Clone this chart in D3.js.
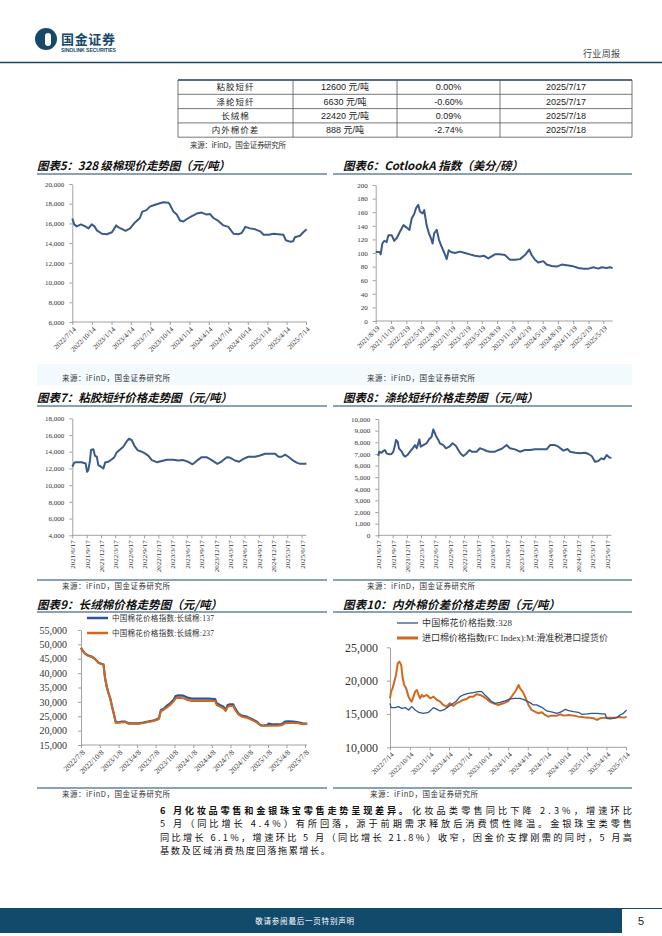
<!DOCTYPE html>
<html>
<head>
<meta charset="utf-8">
<script src="https://d3js.org/d3.v7.min.js"></script>
<style>
  body { margin: 0; background: #fff; }
  svg { display: block; }
</style>
</head>
<body>
<svg width="662" height="936"></svg>

<script>
// ---- table data ----
var tableNames = ["粘胶短纤", "涤纶短纤", "长绒棉", "内外棉价差"];
var tablePrices = ["12600 元/吨", "6630 元/吨", "22420 元/吨", "888 元/吨"];
var tableChanges = ["0.00%", "-0.60%", "0.09%", "-2.74%"];
var tableDates = ["2025/7/17", "2025/7/17", "2025/7/18", "2025/7/18"];

// ---- 图表5: 328 级棉现价 ----
var c5XTicks = ["2022/7/14","2022/10/14","2023/1/14","2023/4/14","2023/7/14","2023/10/14","2024/1/14","2024/4/14","2024/7/14","2024/10/14","2025/1/14","2025/4/14","2025/7/14"];
var c5YTicks = [6000, 8000, 10000, 12000, 14000, 16000, 18000, 20000];
var c5Dates = ["2022/7/14","2022/7/23","2022/8/4","2022/8/24","2022/9/12","2022/9/28","2022/10/13","2022/10/26","2022/11/6","2022/11/30","2022/12/23","2023/1/16","2023/2/5","2023/2/16","2023/3/3","2023/3/21","2023/4/11","2023/5/4","2023/5/27","2023/6/7","2023/6/27","2023/7/13","2023/8/6","2023/8/29","2023/9/14","2023/10/8","2023/10/15","2023/10/31","2023/11/16","2023/12/1","2023/12/17","2024/1/2","2024/1/26","2024/2/18","2024/3/12","2024/4/4","2024/4/20","2024/5/6","2024/5/29","2024/6/22","2024/7/15","2024/8/8","2024/8/31","2024/9/16","2024/10/2","2024/10/25","2024/11/18","2024/12/11","2024/12/27","2025/1/20","2025/2/12","2025/3/7","2025/3/30","2025/4/10","2025/4/30","2025/5/15","2025/5/23","2025/6/16","2025/7/1","2025/7/17"];
var c5Values = [16500,15900,15700,15900,15700,15500,15900,15700,15300,14950,14900,15100,15800,15600,15450,15250,15500,16100,16550,17200,17350,17700,17900,18050,18150,18100,17900,17200,16900,16300,16200,16450,16750,17000,17100,16900,16950,16550,16250,15800,15650,14950,14900,15050,15650,15500,15400,15200,14850,14850,14950,14900,14850,14300,14150,14200,14600,14750,15100,15400];

// ---- 图表6: CotlookA 指数 ----
var c6XTicks = ["2021/8/19","2021/11/19","2022/2/19","2022/5/19","2022/8/19","2022/11/19","2023/2/19","2023/5/19","2023/8/19","2023/11/19","2024/2/19","2024/5/19","2024/8/19","2024/11/19","2025/2/19","2025/5/19"];
var c6YTicks = [0, 20, 40, 60, 80, 100, 120, 140, 160, 180, 200];
var c6Dates = ["2021/8/19","2021/9/14","2021/9/18","2021/9/28","2021/10/10","2021/10/24","2021/11/3","2021/11/24","2021/12/8","2021/12/24","2022/1/13","2022/2/2","2022/2/23","2022/3/10","2022/3/24","2022/4/7","2022/4/19","2022/5/2","2022/5/12","2022/5/28","2022/6/7","2022/6/21","2022/7/5","2022/7/17","2022/7/27","2022/8/6","2022/8/21","2022/9/4","2022/9/20","2022/10/6","2022/10/20","2022/11/1","2022/11/19","2022/12/9","2023/1/8","2023/2/7","2023/3/8","2023/4/7","2023/5/7","2023/5/31","2023/6/27","2023/7/17","2023/8/6","2023/9/5","2023/10/5","2023/11/5","2023/12/5","2024/1/4","2024/2/3","2024/2/28","2024/3/14","2024/4/3","2024/4/23","2024/5/23","2024/6/12","2024/7/12","2024/8/12","2024/9/11","2024/10/11","2024/11/11","2024/12/20","2025/1/20","2025/2/19","2025/3/20","2025/4/19","2025/5/9","2025/6/8","2025/6/28","2025/7/14"];
var c6Values = [102,101,98,114,118,116,126,126,118,122,132,141,137,134,151,157,166,171,161,158,163,141,129,122,114,129,134,119,109,100,91,104,101,100,102,100,98,96,95,96,92,95,98,98,97,90,90,91,97,105,97,90,86,88,83,81,80,83,82,81,78,77,77,79,77,79,78,79,78];

// ---- 图表7: 粘胶短纤 ----
var c7XTicks = ["2021/6/17","2021/9/17","2021/12/17","2022/3/17","2022/6/17","2022/9/17","2022/12/17","2023/3/17","2023/6/17","2023/9/17","2023/12/17","2024/3/17","2024/6/17","2024/9/17","2024/12/17","2025/3/17","2025/6/17"];
var c7YTicks = [4000, 6000, 8000, 10000, 12000, 14000, 16000, 18000];
var c7Dates = ["2021/6/17","2021/6/30","2021/7/15","2021/8/15","2021/9/10","2021/9/19","2021/9/27","2021/10/8","2021/10/14","2021/10/29","2021/11/9","2021/11/20","2021/11/30","2021/12/21","2022/1/1","2022/1/12","2022/2/2","2022/2/24","2022/3/12","2022/3/26","2022/4/10","2022/5/8","2022/5/28","2022/6/13","2022/6/30","2022/7/21","2022/8/7","2022/9/2","2022/9/23","2022/10/15","2022/11/5","2022/12/7","2023/1/8","2023/2/9","2023/3/21","2023/4/23","2023/5/24","2023/6/25","2023/7/23","2023/8/18","2023/9/19","2023/10/20","2023/11/22","2023/12/28","2024/1/25","2024/2/26","2024/3/17","2024/4/18","2024/5/14","2024/6/11","2024/7/12","2024/8/24","2024/9/25","2024/10/27","2024/11/28","2024/12/30","2025/1/20","2025/2/10","2025/3/3","2025/3/24","2025/4/19","2025/5/16","2025/6/7","2025/7/17"];
var c7Values = [12200,12700,12750,12750,12600,11600,11800,13000,14200,14300,13500,13400,12400,12150,12000,12700,12800,13100,13350,13900,14150,14600,15200,15550,15400,14600,14200,14000,13800,13500,13000,12750,12900,13050,13050,12950,13000,12800,12500,12900,13350,13350,13000,12550,12850,13350,13300,12950,12800,13150,13400,13400,13550,13750,13750,13750,13400,13400,13650,13400,13000,12700,12550,12550];

// ---- 图表8: 涤纶短纤 ----
var c8XTicks = c7XTicks;
var c8YTicks = [0, 1000, 2000, 3000, 4000, 5000, 6000, 7000, 8000, 9000, 10000];
var c8Dates = ["2021/6/17","2021/6/23","2021/7/8","2021/7/19","2021/7/29","2021/8/9","2021/8/26","2021/9/10","2021/9/21","2021/10/2","2021/10/8","2021/10/19","2021/10/27","2021/11/14","2021/11/25","2021/12/5","2021/12/20","2022/1/6","2022/1/23","2022/2/7","2022/2/18","2022/3/1","2022/3/7","2022/3/15","2022/4/1","2022/4/22","2022/5/9","2022/5/24","2022/6/4","2022/6/21","2022/7/6","2022/7/16","2022/8/7","2022/8/24","2022/9/14","2022/10/5","2022/10/27","2022/11/11","2022/11/28","2022/12/13","2022/12/30","2023/1/21","2023/2/5","2023/3/8","2023/3/29","2023/4/19","2023/5/11","2023/6/1","2023/7/3","2023/7/24","2023/8/14","2023/9/16","2023/10/7","2023/11/8","2023/12/10","2024/1/11","2024/2/13","2024/3/15","2024/4/16","2024/5/29","2024/6/20","2024/7/21","2024/8/12","2024/9/13","2024/10/9","2024/10/26","2024/11/27","2024/12/29","2025/1/30","2025/2/20","2025/3/13","2025/4/3","2025/4/24","2025/5/15","2025/5/30","2025/6/17","2025/7/4","2025/7/17"];
var c8Values = [6820,7190,7100,7250,7330,7050,6960,6990,7190,7760,8200,8050,7480,7190,6900,6760,6900,7190,7480,7760,7480,7970,8250,7620,7760,7910,8280,8480,9110,8540,8200,7910,7760,7480,7620,7910,7680,7330,6990,6820,6990,7330,7190,7190,7480,7390,7250,7190,7190,7330,7420,7760,7480,7390,7190,7330,7330,7390,7390,7390,7760,7760,7620,7280,7420,7190,7100,7050,7100,6990,6820,6330,6390,6620,6530,6900,6700,6630];

// ---- 图表9: 长绒棉 ----
var c9XTicks = ["2022/7/8","2022/10/8","2023/1/8","2023/4/8","2023/7/8","2023/10/8","2024/1/8","2024/4/8","2024/7/8","2024/10/8","2025/1/8","2025/4/8","2025/7/8"];
var c9YTicks = [15000, 20000, 25000, 30000, 35000, 40000, 45000, 50000, 55000];
var c9Names = ["中国棉花价格指数:长绒棉:137", "中国棉花价格指数:长绒棉:237"];
var c9Dates = ["2022/7/8","2022/7/14","2022/7/27","2022/8/13","2022/8/30","2022/9/15","2022/10/2","2022/10/18","2022/10/26","2022/11/3","2022/11/11","2022/11/20","2022/11/28","2022/12/9","2022/12/19","2022/12/25","2023/1/8","2023/1/24","2023/2/10","2023/2/26","2023/3/21","2023/4/14","2023/5/8","2023/6/1","2023/6/26","2023/7/13","2023/7/24","2023/8/3","2023/8/15","2023/8/31","2023/9/17","2023/10/3","2023/10/14","2023/10/27","2023/11/21","2023/12/7","2023/12/31","2024/2/2","2024/3/22","2024/4/24","2024/5/2","2024/5/18","2024/6/4","2024/6/15","2024/6/25","2024/7/6","2024/7/22","2024/7/31","2024/8/16","2024/9/2","2024/9/26","2024/10/21","2024/11/15","2024/12/1","2024/12/17","2025/1/3","2025/1/11","2025/1/28","2025/2/21","2025/3/15","2025/4/1","2025/4/18","2025/5/12","2025/6/5","2025/6/30","2025/7/19"];
var c9Values137 = [48850,48040,46880,46070,45720,44910,43640,43170,43060,38190,35290,32970,31230,27750,24860,22880,22880,23120,23120,22540,22540,22540,22770,23120,23460,23930,24280,27170,27520,28570,29500,30650,32040,32280,32160,31580,31120,31120,31120,31000,29500,28910,28330,27170,28910,29140,29140,27750,26010,25200,24860,24040,23120,21960,21720,21960,22420,22190,22190,22190,23120,23230,23120,22880,22420,22420];
var c9Values237 = [48850,48000,46800,46000,45650,44850,43550,43100,43000,38100,35200,32900,31150,27700,24800,22700,22750,22950,22950,22400,22350,22400,22650,23000,23300,23700,24050,26820,27170,27990,28910,30070,31230,31460,31230,30770,30300,30300,30300,30300,28910,28330,27750,26820,28330,28570,28570,27170,25660,24860,24510,23700,22770,21840,21600,21720,21720,21720,21720,21840,22540,22650,22650,22540,22190,22300];

// ---- 图表10: 内外棉价差 ----
var c10XTicks = ["2022/7/14","2022/10/14","2023/1/14","2023/4/14","2023/7/14","2023/10/14","2024/1/14","2024/4/14","2024/7/14","2024/10/14","2025/1/14","2025/4/14","2025/7/14"];
var c10YTicks = [10000, 15000, 20000, 25000];
var c10Names = ["中国棉花价格指数:328", "进口棉价格指数(FC Index):M:滑准税港口提货价"];
var c10DomDates = ["2022/7/14","2022/7/19","2022/8/6","2022/8/22","2022/9/7","2022/9/23","2022/10/8","2022/10/23","2022/11/8","2022/11/24","2022/12/16","2023/1/9","2023/2/1","2023/2/17","2023/3/4","2023/3/26","2023/4/11","2023/5/4","2023/5/19","2023/6/4","2023/6/19","2023/7/13","2023/8/5","2023/8/28","2023/9/13","2023/9/28","2023/10/14","2023/10/29","2023/11/14","2023/12/7","2023/12/30","2024/1/23","2024/2/15","2024/3/9","2024/3/24","2024/4/9","2024/4/24","2024/5/10","2024/5/25","2024/6/18","2024/7/11","2024/7/26","2024/8/11","2024/8/27","2024/9/19","2024/10/5","2024/10/20","2024/11/13","2024/12/5","2024/12/21","2025/1/14","2025/2/6","2025/3/1","2025/3/23","2025/4/8","2025/4/15","2025/5/1","2025/5/16","2025/6/1","2025/6/16","2025/7/2","2025/7/17"];
var c10DomValues = [16600,15950,15950,16100,15850,15950,15600,16100,15600,15250,15100,15250,15950,15700,15450,15700,16100,16600,16950,17600,17850,18100,18200,18350,18350,17850,17350,16850,16600,16750,16950,17250,17350,17350,17200,16950,16700,16350,16350,16000,15450,15350,15250,15100,15350,15700,15500,15350,15250,14950,15000,15100,15100,15000,15000,14350,14250,14350,14450,14850,15100,15600];
var c10ImpDates = ["2022/7/14","2022/7/19","2022/7/26","2022/8/3","2022/8/11","2022/8/19","2022/8/27","2022/9/4","2022/9/11","2022/9/18","2022/9/27","2022/10/8","2022/10/16","2022/10/23","2022/10/31","2022/11/8","2022/11/16","2022/11/24","2022/12/1","2022/12/9","2022/12/16","2023/1/1","2023/1/17","2023/2/1","2023/2/17","2023/3/4","2023/3/18","2023/4/3","2023/4/18","2023/5/4","2023/5/19","2023/6/4","2023/6/19","2023/7/5","2023/7/20","2023/8/5","2023/8/20","2023/9/5","2023/9/21","2023/10/6","2023/10/21","2023/11/6","2023/11/29","2023/12/22","2024/1/15","2024/2/4","2024/2/20","2024/3/2","2024/3/9","2024/3/21","2024/4/1","2024/4/17","2024/5/2","2024/5/17","2024/6/2","2024/6/18","2024/7/3","2024/7/18","2024/8/3","2024/8/27","2024/9/11","2024/9/27","2024/10/20","2024/11/13","2024/12/5","2024/12/29","2025/1/21","2025/2/14","2025/3/1","2025/3/15","2025/4/8","2025/5/1","2025/5/24","2025/6/16","2025/7/2","2025/7/17"];
var c10ImpValues = [17350,18350,18850,19850,20850,22600,22850,22350,20350,19350,18850,17600,17100,16850,17600,18350,18600,17850,17350,17850,17600,17850,17350,17600,17100,16850,16350,16100,16600,16200,16600,16850,17100,17250,17600,17600,17950,17850,17600,17250,16850,16600,16350,16600,16950,17850,18600,19350,18850,18350,17600,16350,15600,15350,15100,15250,14850,14600,14750,14750,14950,14750,14850,14750,14600,14500,14450,14350,14100,14350,14450,14450,14450,14550,14450,14550];

// ---- paragraph text ----
var paraBold = "6 月化妆品零售和金银珠宝零售走势呈现差异。";
var paraLines = [
  "化妆品类零售同比下降 2.3%，增速环比",
  "5 月（同比增长 4.4%）有所回落，源于前期需求释放后消费惯性降温。金银珠宝类零售",
  "同比增长 6.1%，增速环比 5 月（同比增长 21.8%）收窄，因金价支撑刚需的同时，5 月高",
  "基数及区域消费热度回落拖累增长。"
];

var svg = d3.select("svg");
var parse = d3.timeParse("%Y/%m/%d");
var serif = '"Liberation Serif","Times New Roman",serif';
var cjk = '"Noto Sans CJK SC",sans-serif';
var sans = '"Liberation Sans",Arial,sans-serif';
var navy = "#17486a";
var lineBlue = "#3b5a8c";

// ---- header ----
svg.append("circle").attr("cx", 46).attr("cy", 39).attr("r", 11).attr("fill", navy);
svg.append("rect").attr("x", 45).attr("y", 33).attr("width", 6).attr("height", 13).attr("rx", 3).attr("fill", "#fff");
svg.append("text").attr("x", 61).attr("y", 44).text("国金证券")
  .attr("font-family", cjk).attr("font-weight", "bold").attr("font-size", 13).attr("fill", navy)
  .attr("textLength", 54);
svg.append("text").attr("x", 61).attr("y", 52).text("SINOLINK SECURITIES")
  .attr("font-family", sans).attr("font-weight", "bold").attr("font-size", 5.2).attr("fill", navy)
  .attr("textLength", 55);
svg.append("text").attr("x", 583).attr("y", 57).text("行业周报")
  .attr("font-family", cjk).attr("font-size", 9).attr("fill", "#444").attr("textLength", 37);
svg.append("line").attr("x1", 0).attr("x2", 662).attr("y1", 62.5).attr("y2", 62.5)
  .attr("stroke", navy).attr("stroke-width", 1.5);

// ---- table ----
var colX = [178, 293, 397, 500, 632];
var rowY = [80, 94.3, 108.6, 122.9, 137.2];
var tg = svg.append("g");
rowY.forEach(function (y, i) {
  tg.append("line").attr("x1", colX[0]).attr("x2", colX[4]).attr("y1", y).attr("y2", y)
    .attr("stroke", i === 0 ? "#1f3d5a" : "#555").attr("stroke-width", i === 0 ? 1.5 : 0.8);
});
colX.forEach(function (x) {
  tg.append("line").attr("x1", x).attr("x2", x).attr("y1", rowY[0]).attr("y2", rowY[4])
    .attr("stroke", "#555").attr("stroke-width", 0.8);
});
var tableCols = [tableNames, tablePrices, tableChanges, tableDates];
tableCols.forEach(function (col, c) {
  col.forEach(function (v, r) {
    tg.append("text")
      .attr("x", (colX[c] + colX[c + 1]) / 2)
      .attr("y", (rowY[r] + rowY[r + 1]) / 2 + 3.2)
      .attr("text-anchor", "middle")
      .attr("font-family", c === 0 ? cjk : sans + "," + cjk)
      .attr("font-size", c === 0 ? 8.5 : 9)
      .attr("letter-spacing", c === 0 ? 1 : 0)
      .attr("fill", "#222")
      .text(v);
  });
});
svg.append("text").attr("x", 190).attr("y", 148).text("来源：iFinD，国金证券研究所")
  .attr("font-family", cjk).attr("font-size", 7.5).attr("fill", "#333").attr("textLength", 96);

// ---- titles, rules and sources ----
function title(x, y, txt, len) {
  svg.append("text").attr("x", x).attr("y", y).text(txt)
    .attr("font-family", cjk).attr("font-weight", "bold").attr("font-style", "italic")
    .attr("font-size", 11.5).attr("fill", "#111").attr("textLength", len);
}
function rule(x1, x2, y) {
  svg.append("line").attr("x1", x1).attr("x2", x2).attr("y1", y).attr("y2", y)
    .attr("stroke", navy).attr("stroke-width", 1.1);
}
function source(x, y) {
  svg.append("text").attr("x", x).attr("y", y).text("来源：iFinD，国金证券研究所")
    .attr("font-family", cjk).attr("font-size", 7.5).attr("fill", "#333").attr("textLength", 108);
}

title(37, 169.5, "图表5：328 级棉现价走势图（元/吨）", 193);
title(343, 169.5, "图表6：CotlookA 指数（美分/磅）", 180);
rule(37, 327, 174); rule(333, 632, 174);
svg.append("rect").attr("x", 37).attr("y", 364).attr("width", 595).attr("height", 21).attr("fill", "#f3fafd");
source(62, 381); source(367, 381);

title(37, 402, "图表7：粘胶短纤价格走势图（元/吨）", 195);
title(343, 402, "图表8：涤纶短纤价格走势图（元/吨）", 195);
rule(37, 327, 406); rule(333, 632, 406);
rule(37, 327, 580); rule(333, 632, 580);
source(62, 589); source(367, 589);

title(37, 609, "图表9：长绒棉价格走势图（元/吨）", 185);
title(343, 609, "图表10：内外棉价差价格走势图（元/吨）", 217);
rule(37, 327, 612); rule(333, 632, 612);
rule(37, 327, 788); rule(333, 632, 788);
source(62, 797); source(370, 797);

// ---- line chart helper ----
function lineChart(o) {
  var g = svg.append("g");
  var xt = o.xTicks.map(parse);
  var x = d3.scaleTime().domain([xt[0], xt[xt.length - 1]]).range([o.x0, o.x1]);
  var y = d3.scaleLinear().domain(d3.extent(o.yTicks)).range([o.yB, o.yT]);

  var ya = g.append("g").attr("transform", "translate(" + o.x0 + ",0)")
    .call(d3.axisLeft(y).tickValues(o.yTicks).tickFormat(o.yFmt)
      .tickSize(3).tickSizeOuter(0).tickPadding(o.yPad));
  ya.attr("font-family", serif).attr("font-size", o.yFont);

  var xa = g.append("g").attr("transform", "translate(0," + o.yB + ")")
    .call(d3.axisBottom(x).tickValues(xt).tickFormat(function (d, i) { return o.xTicks[i]; })
      .tickSize(3).tickSizeOuter(0));
  xa.attr("font-family", serif).attr("font-size", o.xFont);
  xa.select(".domain").attr("d", "M" + o.x0 + ",0H" + x(parse(o.xEnd)));
  xa.selectAll("text")
    .attr("x", 0).attr("y", 0).attr("dy", "0.35em")
    .style("text-anchor", "end")
    .attr("transform", o.rot === 90 ? "translate(0,5) rotate(-90)" : "translate(2,6) rotate(-45)");

  g.selectAll(".domain, .tick line").attr("stroke", "#8a8a8a").attr("stroke-width", 0.8);
  g.selectAll(".tick text").attr("fill", "#333");

  var line = d3.line()
    .x(function (d) { return x(parse(d[0])); })
    .y(function (d) { return y(d[1]); });
  o.series.forEach(function (s) {
    g.append("path").datum(d3.zip(s.dates, s.values))
      .attr("fill", "none").attr("stroke", s.color).attr("stroke-width", s.width)
      .attr("stroke-linejoin", "round").attr("d", line);
  });
}

var comma = d3.format(",");

lineChart({ x0: 72.3, x1: 306, yT: 184, yB: 322, xTicks: c5XTicks, yTicks: c5YTicks,
  yFmt: comma, yFont: 7, yPad: 5, xFont: 7, rot: 45, xEnd: "2025/7/17",
  series: [{ dates: c5Dates, values: c5Values, color: lineBlue, width: 2 }] });

lineChart({ x0: 375.7, x1: 603.3, yT: 185, yB: 321, xTicks: c6XTicks, yTicks: c6YTicks,
  yFmt: d3.format("d"), yFont: 7, yPad: 5, xFont: 7, rot: 45, xEnd: "2025/7/14",
  series: [{ dates: c6Dates, values: c6Values, color: lineBlue, width: 2 }] });

lineChart({ x0: 72.3, x1: 301.7, yT: 418.3, yB: 535.3, xTicks: c7XTicks, yTicks: c7YTicks,
  yFmt: comma, yFont: 7, yPad: 5, xFont: 7, rot: 90, xEnd: "2025/7/17",
  series: [{ dates: c7Dates, values: c7Values, color: lineBlue, width: 2 }] });

lineChart({ x0: 378.3, x1: 606.7, yT: 419, yB: 535.3, xTicks: c8XTicks, yTicks: c8YTicks,
  yFmt: comma, yFont: 7, yPad: 5, xFont: 7, rot: 90, xEnd: "2025/7/17",
  series: [{ dates: c8Dates, values: c8Values, color: lineBlue, width: 2 }] });

lineChart({ x0: 81, x1: 305, yT: 630, yB: 745, xTicks: c9XTicks, yTicks: c9YTicks,
  yFmt: comma, yFont: 10, yPad: 11, xFont: 7.5, rot: 45, xEnd: "2025/7/19",
  series: [{ dates: c9Dates, values: c9Values137, color: "#2f5597", width: 2.2 },
           { dates: c9Dates, values: c9Values237, color: "#d0691e", width: 2 }] });

lineChart({ x0: 390, x1: 626, yT: 647.3, yB: 747.3, xTicks: c10XTicks, yTicks: c10YTicks,
  yFmt: comma, yFont: 12, yPad: 9, xFont: 7, rot: 45, xEnd: "2025/7/17",
  series: [{ dates: c10ImpDates, values: c10ImpValues, color: "#d0691e", width: 2 },
           { dates: c10DomDates, values: c10DomValues, color: "#2f5597", width: 1.3 }] });

// ---- legends ----
function legendItem(x, y, color, w, txt, fs, len) {
  svg.append("line").attr("x1", x).attr("x2", x + 21).attr("y1", y).attr("y2", y)
    .attr("stroke", color).attr("stroke-width", w);
  svg.append("text").attr("x", x + 25).attr("y", y + 2.8).text(txt)
    .attr("font-family", serif + "," + cjk).attr("font-size", fs).attr("fill", "#333")
    .attr("textLength", len);
}
legendItem(87, 618, "#2f5597", 2.5, c9Names[0], 7.5, 102);
legendItem(87, 633, "#d0691e", 2.5, c9Names[1], 7.5, 102);
legendItem(397, 623, "#2f5597", 1.3, c10Names[0], 9, 90);
legendItem(397, 638, "#d0691e", 3, c10Names[1], 9, 186);

// ---- paragraph ----
function paraText(x, y, txt, len, bold) {
  var t = svg.append("text").attr("x", x).attr("y", y).text(txt)
    .attr("font-family", cjk).attr("font-size", 9.2).attr("fill", "#111")
    .attr("font-weight", bold ? "bold" : "normal");
  if (len) t.attr("textLength", len).attr("lengthAdjust", "spacing");
}
paraText(160, 813.5, paraBold, 248, true);
paraText(412, 813.5, paraLines[0], 220, false);
paraText(160, 827, paraLines[1], 472, false);
paraText(160, 840.5, paraLines[2], 472, false);
paraText(160, 854, paraLines[3], 170, false);

// ---- footer ----
svg.append("line").attr("x1", 0).attr("x2", 662).attr("y1", 908.5).attr("y2", 908.5)
  .attr("stroke", navy).attr("stroke-width", 1);
svg.append("rect").attr("x", 0).attr("y", 909).attr("width", 622).attr("height", 24).attr("fill", "#124a6c");
svg.append("text").attr("x", 305).attr("y", 924).attr("text-anchor", "middle").text("敬请参阅最后一页特别声明")
  .attr("font-family", cjk).attr("font-size", 7.5).attr("fill", "#fff").attr("letter-spacing", 0.8);
svg.append("text").attr("x", 641).attr("y", 925).attr("text-anchor", "middle").text("5")
  .attr("font-family", sans).attr("font-size", 11).attr("fill", "#222");
</script>
</body>
</html>
